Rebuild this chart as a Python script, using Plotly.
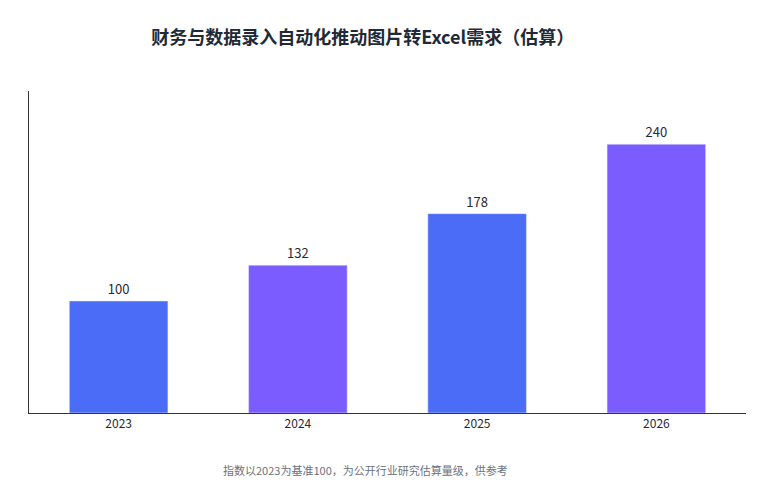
import plotly.graph_objects as go

years = ["2023", "2024", "2025", "2026"]
values = [100, 132, 178, 240]
colors = ["#4A6CF7", "#7B5CFF", "#4A6CF7", "#7B5CFF"]

fig = go.Figure(go.Bar(
    x=years, y=values, marker_color=colors, width=0.55,
    text=[str(v) for v in values], textposition="outside",
    textfont=dict(size=13, color="#1f2937", family="Noto Sans CJK SC"),
    cliponaxis=False, hoverinfo="skip"))

fig.update_layout(
    width=758, height=488,
    margin=dict(l=21, r=20, t=83, b=83),
    plot_bgcolor="white", paper_bgcolor="white",
    font=dict(family="Noto Sans CJK SC", color="#1f2937"),
    title=dict(text="<b>财务与数据录入自动化推动图片转Excel需求（估算）</b>",
               x=0.468, xanchor="center", y=0.94, yanchor="middle",
               font=dict(size=18, color="#1f2937")),
    showlegend=False,
    annotations=[dict(text="指数以2023为基准100，为公开行业研究估算量级，供参考",
                      xref="paper", yref="paper", x=0.47, y=-0.177,
                      xanchor="center", yanchor="middle", showarrow=False,
                      font=dict(size=11, color="#6b7280"))],
)
fig.update_xaxes(showline=True, linecolor="#333", linewidth=1, ticks="",
                 tickfont=dict(size=12, color="#1f2937"))
fig.update_yaxes(range=[0, 287.5], showline=True, linecolor="#333", linewidth=1,
                 showgrid=False, showticklabels=False, ticks="", zeroline=False)

fig.write_html("out.html")
